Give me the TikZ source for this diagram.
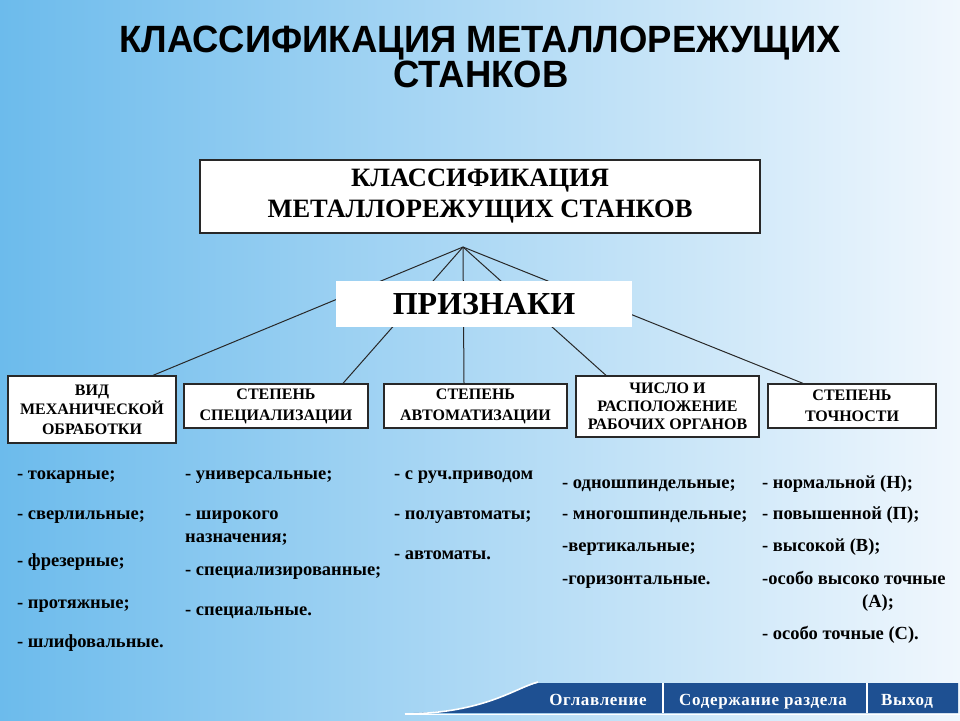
\documentclass[tikz,border=0pt]{standalone}
\usepackage{fontspec}
\setmainfont{Liberation Serif}
\newfontfamily\titlefont[FakeStretch=0.96]{Liberation Sans}
\newfontfamily\btnfont[LetterSpace=4]{Liberation Serif}
\usetikzlibrary{calc}
\definecolor{bgL}{RGB}{108,187,236}
\definecolor{bgM}{RGB}{182,222,246}
\definecolor{bgR}{RGB}{240,247,253}
\definecolor{barblue}{RGB}{30,80,146}
\definecolor{boxline}{RGB}{40,40,40}
\tikzset{
  catbox/.style={draw=boxline, line width=1.3pt, fill=white, align=center, inner sep=0pt,
    font=\bfseries\fontsize{16}{19.5}\selectfont},
  item/.style={anchor=base west, inner sep=0pt, font=\bfseries\fontsize{18.5}{23}\selectfont},
  link/.style={draw=boxline, line width=1pt},
  ttl/.style={anchor=base, inner sep=0pt, font=\titlefont\bfseries\fontsize{38}{33}\selectfont},
  btn/.style={anchor=base, text=white, font=\btnfont\bfseries\fontsize{17}{18}\selectfont, inner sep=0pt}
}
\begin{document}
\begin{tikzpicture}[x=1pt,y=-1pt]
\useasboundingbox (0,0) rectangle (960,720);
\shade[left color=bgL, middle color=bgM, right color=bgR] (0,0) rectangle (960,720);

% title
\node[ttl] (title1) at (480,52) {КЛАССИФИКАЦИЯ МЕТАЛЛОРЕЖУЩИХ};
\node[ttl] (title2) at (481,87) {СТАНКОВ};

% main box
\node[draw=boxline, line width=1.3pt, fill=white, align=center, inner sep=0pt,
  minimum width=560, minimum height=73, font=\bfseries\fontsize{26.5}{31}\selectfont] (main) at (480,196.5)
  {КЛАССИФИКАЦИЯ\\МЕТАЛЛОРЕЖУЩИХ СТАНКОВ};

\coordinate (apex) at (463,247);

% category boxes
\node[catbox, minimum width=168, minimum height=67] (b1) at (92,409.5) {ВИД\\МЕХАНИЧЕСКОЙ\\ОБРАБОТКИ};
\node[catbox, minimum width=184, minimum height=44, font=\bfseries\fontsize{16}{21}\selectfont] (b2) at (276,406) {СТЕПЕНЬ\\СПЕЦИАЛИЗАЦИИ};
\node[catbox, minimum width=183, minimum height=44, font=\bfseries\fontsize{16}{21}\selectfont] (b3) at (475.5,406) {СТЕПЕНЬ\\АВТОМАТИЗАЦИИ};
\node[catbox, minimum width=183, minimum height=61, font=\bfseries\fontsize{16}{18}\selectfont] (b4) at (667.5,406.5) {ЧИСЛО И\\РАСПОЛОЖЕНИЕ\\РАБОЧИХ ОРГАНОВ};
\node[catbox, minimum width=168, minimum height=44, font=\bfseries\fontsize{16}{21}\selectfont] (b5) at (852,406) {СТЕПЕНЬ\\ТОЧНОСТИ};

% connectors
\draw[link] (apex) -- ([xshift=61pt]b1.north);
\draw[link] (apex) -- ([xshift=67pt]b2.north);
\draw[link] (apex) -- ([xshift=-11.5pt]b3.north);
\draw[link] (apex) -- ([xshift=-61.5pt]b4.north);
\draw[link] (apex) -- ([xshift=-49pt]b5.north);

% signs box (drawn over the connectors)
\node[fill=white, inner sep=0pt, minimum width=296, minimum height=46,
  font=\bfseries\fontsize{32}{36}\selectfont] (signs) at (484,304) {ПРИЗНАКИ};

% column 1
\node[item] (c1a) at (17,479) {- токарные;};
\node[item] (c1b) at (17,519) {- сверлильные;};
\node[item] (c1c) at (17,566) {- фрезерные;};
\node[item] (c1d) at (17,608) {- протяжные;};
\node[item] (c1e) at (17,647) {- шлифовальные.};
% column 2
\node[item] (c2a) at (185,479) {- универсальные;};
\node[item] (c2b) at (185,519) {- широкого};
\node[item] (c2c) at (185,542) {назначения;};
\node[item] (c2d) at (185,575) {- специализированные;};
\node[item] (c2e) at (185,615) {- специальные.};
% column 3
\node[item] (c3a) at (394,479) {- с руч.приводом};
\node[item] (c3b) at (394,519) {- полуавтоматы;};
\node[item] (c3c) at (394,559) {- автоматы.};
% column 4
\node[item] (c4a) at (562,488) {- одношпиндельные;};
\node[item] (c4b) at (562,519) {- многошпиндельные;};
\node[item] (c4c) at (562,551) {-вертикальные;};
\node[item] (c4d) at (562,584) {-горизонтальные.};
% column 5
\node[item] (c5a) at (762,488) {- нормальной (Н);};
\node[item] (c5b) at (762,519) {- повышенной (П);};
\node[item] (c5c) at (762,551) {- высокой (В);};
\node[item] (c5d) at (762,584) {-особо высоко точные};
\node[item] (c5e) at (862,607) {(А);};
\node[item] (c5f) at (762,639) {- особо точные (С).};

% bottom navigation bar
\fill[barblue] (413,713) .. controls (485,712) and (515,688) .. (538,683) -- (958,683) -- (958,713) -- cycle;
\draw[white, line width=1.6pt] (405,714) .. controls (485,713) and (515,688) .. (538,682);
\draw[white, line width=1.2pt] (405,714.5) -- (960,714.5);
\draw[white, line width=2pt] (663,683) -- (663,713);
\draw[white, line width=2pt] (867,683) -- (867,713);
\node[btn] (nav1) at (598,705) {Оглавление};
\node[btn] (nav2) at (763,705) {Содержание раздела};
\node[btn] (nav3) at (907,705) {Выход};
\end{tikzpicture}
\end{document}
